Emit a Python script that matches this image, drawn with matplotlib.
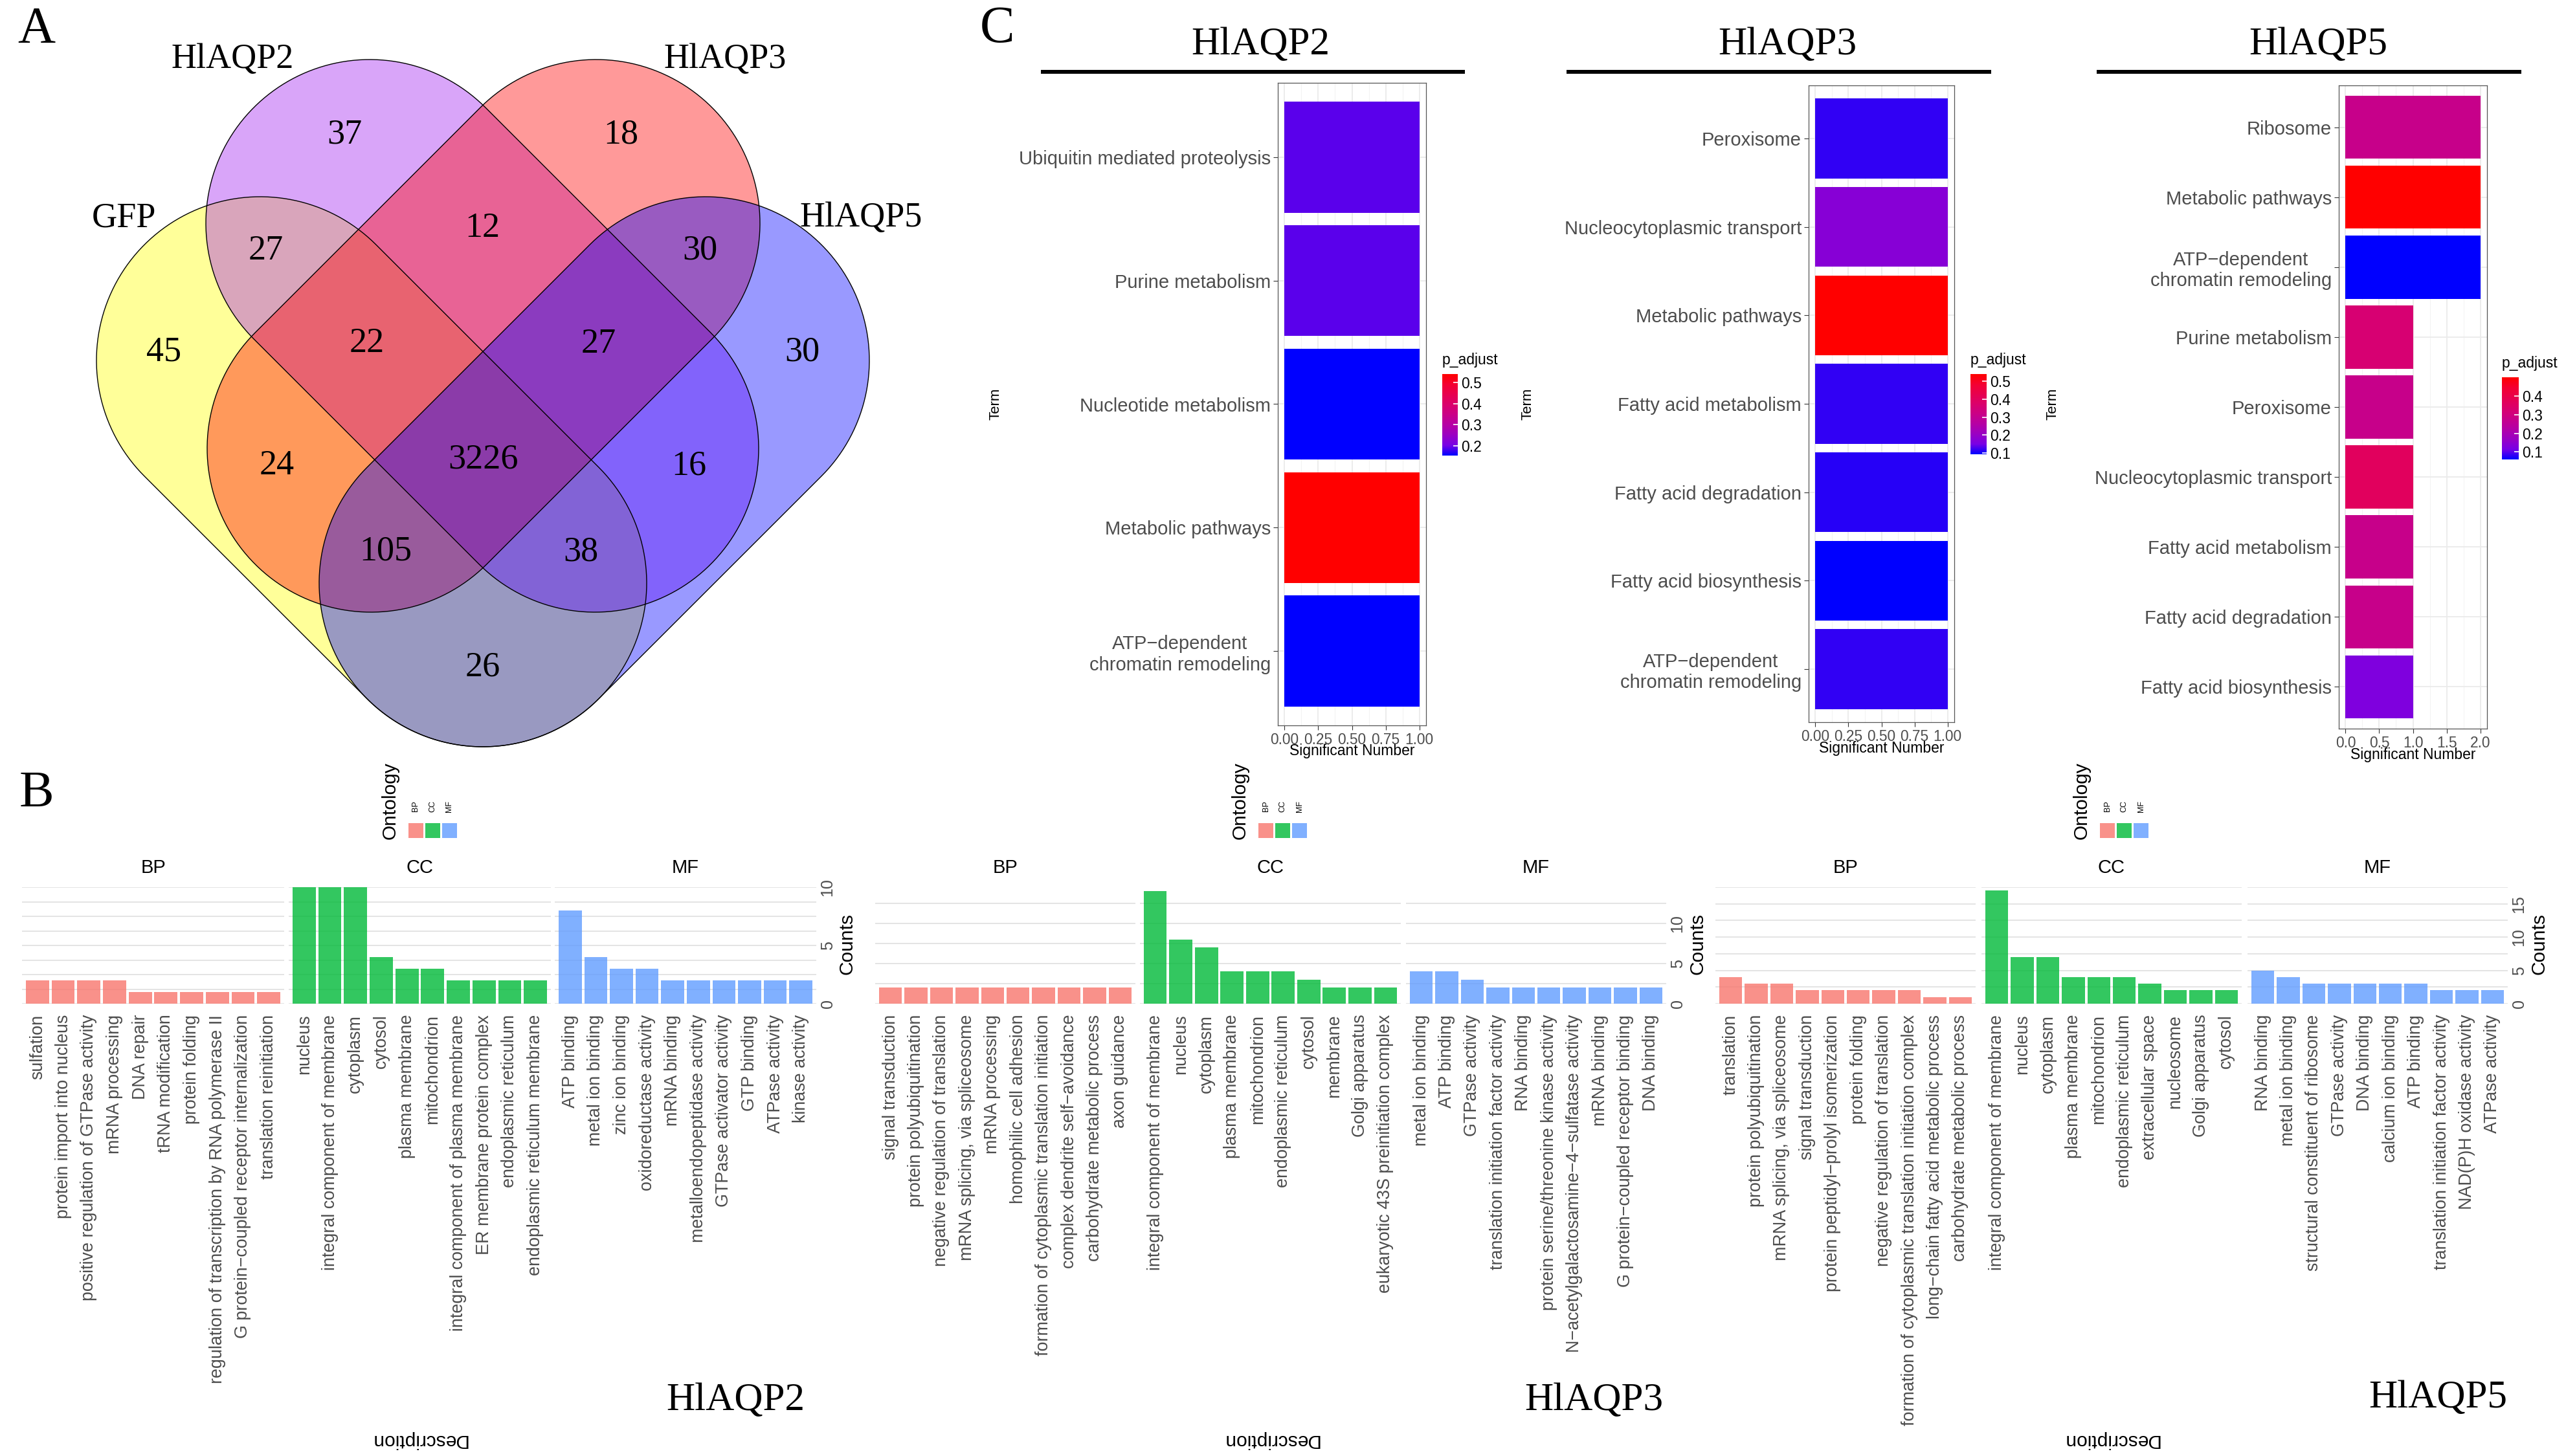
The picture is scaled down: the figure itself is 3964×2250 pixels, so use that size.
import numpy as np
import matplotlib
matplotlib.use("Agg")
import matplotlib.pyplot as plt
import matplotlib.cm as cm
from matplotlib.colors import LinearSegmentedColormap, Normalize
from matplotlib.patches import Polygon, Rectangle
from matplotlib.ticker import FormatStrFormatter

plt.rcParams['font.family'] = ['Liberation Sans', 'DejaVu Sans']
SERIF = ['Liberation Serif', 'DejaVu Serif']
GREY = '#4D4D4D'

# ---------------- data ----------------
# A: venn, membership order (GFP, HlAQP2, HlAQP3, HlAQP5)
venn_sets = ["GFP", "HlAQP2", "HlAQP3", "HlAQP5"]
venn_fill = ["#FFFF00", "#A020F0", "#FF0000", "#0000FF"]
venn_regions = [(1, 0, 0, 0), (0, 1, 0, 0), (0, 0, 1, 0), (0, 0, 0, 1),
                (1, 1, 0, 0), (0, 1, 1, 0), (0, 0, 1, 1), (1, 0, 0, 1),
                (1, 0, 1, 0), (0, 1, 0, 1), (1, 1, 1, 0), (0, 1, 1, 1),
                (1, 0, 1, 1), (1, 1, 0, 1), (1, 1, 1, 1)]
venn_counts = [45, 37, 18, 30, 27, 12, 30, 26, 24, 16, 22, 27, 105, 38, 3226]

# C: KEGG terms
kegg2_terms = ["Ubiquitin mediated proteolysis", "Purine metabolism", "Nucleotide metabolism",
               "Metabolic pathways", "ATP\u2212dependent\nchromatin remodeling"]
kegg2_counts = [1, 1, 1, 1, 1]
kegg2_padj = [0.19, 0.19, 0.153, 0.54, 0.153]

kegg3_terms = ["Peroxisome", "Nucleocytoplasmic transport", "Metabolic pathways",
               "Fatty acid metabolism", "Fatty acid degradation", "Fatty acid biosynthesis",
               "ATP\u2212dependent\nchromatin remodeling"]
kegg3_counts = [1, 1, 1, 1, 1, 1, 1]
kegg3_padj = [0.115, 0.173, 0.541, 0.115, 0.11, 0.092, 0.115]

kegg5_terms = ["Ribosome", "Metabolic pathways", "ATP\u2212dependent\nchromatin remodeling",
               "Purine metabolism", "Peroxisome", "Nucleocytoplasmic transport",
               "Fatty acid metabolism", "Fatty acid degradation", "Fatty acid biosynthesis"]
kegg5_counts = [2, 2, 2, 1, 1, 1, 1, 1, 1]
kegg5_padj = [0.276, 0.50, 0.06, 0.324, 0.276, 0.364, 0.276, 0.276, 0.126]

# B: GO terms
go2_bp = ["sulfation", "protein import into nucleus", "positive regulation of GTPase activity",
          "mRNA processing", "DNA repair", "tRNA modification", "protein folding",
          "regulation of transcription by RNA polymerase II",
          "G protein\u2212coupled receptor internalization", "translation reinitiation"]
go2_bp_n = [2, 2, 2, 2, 1, 1, 1, 1, 1, 1]
go2_cc = ["nucleus", "integral component of membrane", "cytoplasm", "cytosol", "plasma membrane",
          "mitochondrion", "integral component of plasma membrane", "ER membrane protein complex",
          "endoplasmic reticulum", "endoplasmic reticulum membrane"]
go2_cc_n = [10, 10, 10, 4, 3, 3, 2, 2, 2, 2]
go2_mf = ["ATP binding", "metal ion binding", "zinc ion binding", "oxidoreductase activity",
          "mRNA binding", "metalloendopeptidase activity", "GTPase activator activity",
          "GTP binding", "ATPase activity", "kinase activity"]
go2_mf_n = [8, 4, 3, 3, 2, 2, 2, 2, 2, 2]

go3_bp = ["signal transduction", "protein polyubiquitination", "negative regulation of translation",
          "mRNA splicing, via spliceosome", "mRNA processing", "homophilic cell adhesion",
          "formation of cytoplasmic translation initiation", "complex dendrite self\u2212avoidance",
          "carbohydrate metabolic process", "axon guidance"]
go3_bp_n = [2, 2, 2, 2, 2, 2, 2, 2, 2, 2]
go3_cc = ["integral component of membrane", "nucleus", "cytoplasm", "plasma membrane",
          "mitochondrion", "endoplasmic reticulum", "cytosol", "membrane", "Golgi apparatus",
          "eukaryotic 43S preinitiation complex"]
go3_cc_n = [14, 8, 7, 4, 4, 4, 3, 2, 2, 2]
go3_mf = ["metal ion binding", "ATP binding", "GTPase activity", "translation initiation factor activity",
          "RNA binding", "protein serine/threonine kinase activity",
          "N\u2212acetylgalactosamine\u22124\u2212sulfatase activity", "mRNA binding",
          "G protein\u2212coupled receptor binding", "DNA binding"]
go3_mf_n = [4, 4, 3, 2, 2, 2, 2, 2, 2, 2]

go5_bp = ["translation", "protein polyubiquitination", "mRNA splicing, via spliceosome",
          "signal transduction", "protein peptidyl\u2212prolyl isomerization", "protein folding",
          "negative regulation of translation", "formation of cytoplasmic translation initiation complex",
          "long\u2212chain fatty acid metabolic process", "carbohydrate metabolic process"]
go5_bp_n = [4, 3, 3, 2, 2, 2, 2, 2, 1, 1]
go5_cc = ["integral component of membrane", "nucleus", "cytoplasm", "plasma membrane",
          "mitochondrion", "endoplasmic reticulum", "extracellular space", "nucleosome",
          "Golgi apparatus", "cytosol"]
go5_cc_n = [17, 7, 7, 4, 4, 4, 3, 2, 2, 2]
go5_mf = ["RNA binding", "metal ion binding", "structural constituent of ribosome", "GTPase activity",
          "DNA binding", "calcium ion binding", "ATP binding", "translation initiation factor activity",
          "NAD(P)H oxidase activity", "ATPase activity"]
go5_mf_n = [5, 4, 3, 3, 3, 3, 3, 2, 2, 2]

ont_names = ["BP", "CC", "MF"]
ont_colors = ["#F8766D", "#00BA38", "#619CFF"]

# blue -> red gradient (Lab-like interpolation, as ggplot)
padj_cmap = LinearSegmentedColormap.from_list(
    "padj", [(0, "#0000FF"), (0.125, "#7800E5"), (0.25, "#9A00C3"), (0.375, "#B500A5"),
             (0.5, "#C90088"), (0.625, "#DA006C"), (0.75, "#E7004F"), (0.875, "#F40031"),
             (1, "#FF0000")])

# ---------------- figure ----------------
W, H = 3964, 2250
fig = plt.figure(figsize=(W / 100, H / 100), dpi=100)


def box(x0, y0, x1, y1):
    return [x0 / W, 1 - y1 / H, (x1 - x0) / W, (y1 - y0) / H]


ax0 = fig.add_axes([0, 0, 1, 1])
ax0.set_xlim(0, W)
ax0.set_ylim(H, 0)
ax0.axis('off')

# panel letters
for letter, (x, y) in zip("ABC", [(56, 46), (56, 1227), (1541, 46)]):
    ax0.text(x, y, letter, fontsize=58, family=SERIF, ha='center', va='center')

# ---------------- A: venn ----------------
venn_r = 253
venn_axes = [((402, 557), (746, 901)), ((571, 345), (919, 693)),
             ((921, 345), (573, 693)), ((1090, 557), (746, 901))]


def capsule(c1, c2, r, n=90):
    c1 = np.array(c1, float)
    c2 = np.array(c2, float)
    d = c2 - c1
    ang = np.arctan2(d[1], d[0])
    a1 = np.linspace(ang + np.pi / 2, ang + 3 * np.pi / 2, n)
    a2 = np.linspace(ang - np.pi / 2, ang + np.pi / 2, n)
    p1 = c1 + r * np.column_stack([np.cos(a1), np.sin(a1)])
    p2 = c2 + r * np.column_stack([np.cos(a2), np.sin(a2)])
    return np.vstack([p1, p2])


def seg_dist(px, py, c1, c2):
    dx, dy = c2[0] - c1[0], c2[1] - c1[1]
    t = np.clip(((px - c1[0]) * dx + (py - c1[1]) * dy) / (dx * dx + dy * dy), 0, 1)
    return np.hypot(px - (c1[0] + t * dx), py - (c1[1] + t * dy))


for (c1, c2), col in zip(venn_axes, venn_fill):
    ax0.add_patch(Polygon(capsule(c1, c2, venn_r), closed=True, facecolor=col, alpha=0.4,
                          edgecolor='none', zorder=1))
for c1, c2 in venn_axes:
    ax0.add_patch(Polygon(capsule(c1, c2, venn_r), closed=True, facecolor='none',
                          edgecolor='black', lw=1.0, zorder=2))

# place each count at the centre of the thick part of its region
gx, gy = np.meshgrid(np.arange(100, 1400, 3), np.arange(40, 1250, 3))
dists = [seg_dist(gx, gy, c1, c2) for c1, c2 in venn_axes]
inside = [d <= venn_r for d in dists]
clear = np.min([np.abs(d - venn_r) for d in dists], axis=0)
for memb, n in zip(venn_regions, venn_counts):
    mask = np.all([inside[i] == bool(memb[i]) for i in range(4)], axis=0)
    cmax = clear[mask].max()
    sel = mask & (clear >= 0.6 * cmax)
    ax0.text(gx[sel].mean(), gy[sel].mean(), str(n), fontsize=39, family=SERIF,
             ha='center', va='center', zorder=3)

for name, (x, y) in zip(venn_sets, [(191, 337), (359, 92), (1120, 92), (1330, 337)]):
    ax0.text(x, y, name, fontsize=39, family=SERIF, ha='center', va='center')


# ---------------- C: KEGG bars ----------------
def kegg_plot(px, terms, counts, padj, xlim, xticks, xfmt, cbar_px, cticks,
              title, title_x, line_x, term_x):
    ax = fig.add_axes(box(*px))
    n = len(terms)
    ypos = np.arange(n)[::-1]
    norm = Normalize(min(padj), max(padj))
    ax.barh(ypos, counts, height=0.9, color=padj_cmap(norm(np.array(padj))), zorder=2)
    ax.set_ylim(-0.6, n - 0.4)
    ax.set_xlim(*xlim)
    ax.set_yticks(ypos)
    ax.set_yticklabels(terms, fontsize=21, color=GREY)
    for lbl in ax.get_yticklabels():
        lbl.set_multialignment('center')
    ax.set_xticks(xticks)
    ax.set_xticklabels([xfmt % v for v in xticks], fontsize=16.4, color=GREY)
    ax.set_xticks(np.array(xticks[:-1]) + (xticks[1] - xticks[0]) / 2, minor=True)
    ax.grid(which='major', color='#EBEBEB', lw=1.3, zorder=0)
    ax.grid(which='minor', axis='x', color='#F3F3F3', lw=0.8, zorder=0)
    ax.set_axisbelow(True)
    ax.tick_params(which='major', length=5, color='#333333', pad=3)
    ax.tick_params(which='minor', length=0)
    for s in ax.spines.values():
        s.set_color('#555555')
        s.set_linewidth(0.9)
    cx = (px[0] + px[2]) / 2
    ax0.text(cx, px[3] + 40, "Significant Number", fontsize=16.5, ha='center', va='center')
    ax0.text(term_x, 624, "Term", fontsize=16, rotation=90, ha='center', va='center')
    ax0.text(title_x, 69, title, fontsize=44, family=SERIF, ha='center', va='center')
    ax0.plot(line_x, [111, 111], color='black', lw=4.3, solid_capstyle='butt')
    cax = fig.add_axes(box(*cbar_px))
    cb = fig.colorbar(cm.ScalarMappable(norm=norm, cmap=padj_cmap), cax=cax, ticks=cticks)
    cb.outline.set_visible(False)
    cax.yaxis.set_major_formatter(FormatStrFormatter('%.1f'))
    cax.tick_params(labelsize=16.5, color='white', length=5, width=1.2, direction='in', pad=4)
    ax0.text(cbar_px[0], cbar_px[1] - 10, "p_adjust", fontsize=16.5, ha='left', va='bottom')


kegg_plot((1974, 128, 2203, 1121), kegg2_terms, kegg2_counts, kegg2_padj, (-0.05, 1.05),
          [0, 0.25, 0.5, 0.75, 1.0], '%.2f', (2228, 578, 2252, 704), [0.2, 0.3, 0.4, 0.5],
          "HlAQP2", 1947, [1608, 2263], 1538)
kegg_plot((2794, 132, 3019, 1116), kegg3_terms, kegg3_counts, kegg3_padj, (-0.05, 1.05),
          [0, 0.25, 0.5, 0.75, 1.0], '%.2f', (3044, 578, 3069, 702), [0.1, 0.2, 0.3, 0.4, 0.5],
          "HlAQP3", 2761, [2420, 3076], 2360)
kegg_plot((3613, 132, 3842, 1126), kegg5_terms, kegg5_counts, kegg5_padj, (-0.1, 2.1),
          [0, 0.5, 1.0, 1.5, 2.0], '%.1f', (3865, 583, 3891, 710), [0.1, 0.2, 0.3, 0.4],
          "HlAQP5", 3581, [3239, 3895], 3171)


# ---------------- B: GO bars ----------------
def go_plot(xs, terms_list, counts_list, ymax, grid_step, yticks, counts_x, legend_x, name, name_xy,
            desc_x):
    y0, y1 = 1371, 1551
    for (xa, xb), terms, counts, oname, col in zip(xs, terms_list, counts_list, ont_names, ont_colors):
        ax = fig.add_axes(box(xa, y0, xb, y1))
        ax.set_facecolor('none')
        n = len(terms)
        ax.bar(np.arange(n), counts, width=0.9, color=col, alpha=0.8, zorder=2)
        ax.set_xlim(-0.6, n - 0.4)
        ax.set_ylim(0, ymax)
        ax.set_xticks(np.arange(n))
        ax.set_xticklabels(terms, rotation=90, fontsize=19.4, color=GREY)
        ax.set_yticks(np.arange(0, ymax + 1e-6, grid_step), minor=True)
        ax.set_yticks(yticks)
        ax.grid(axis='y', which='both', color='#E4E4E4', lw=1.4, zorder=0)
        ax.tick_params(axis='both', which='both', length=0)
        ax.tick_params(axis='x', pad=12)
        for s in ax.spines.values():
            s.set_visible(False)
        if oname == "MF":
            ax.yaxis.tick_right()
            ax.set_yticklabels([str(v) for v in yticks], rotation=90, va='center',
                               fontsize=18, color=GREY)
            ax.tick_params(axis='y', pad=4)
        else:
            ax.tick_params(axis='y', labelleft=False)
        ax0.text((xa + xb) / 2, 1341, oname, fontsize=21, ha='center', va='center')
    ax0.text(counts_x, 1459, "Counts", fontsize=21.5, rotation=90, ha='center', va='center')
    ax0.text(name_xy[0], name_xy[1], name, fontsize=44, family=SERIF, ha='center', va='center')
    ax0.text(desc_x, 2225, "Description", fontsize=21.5, rotation=180, ha='center', va='center')
    # legend
    ax0.text(legend_x, 1237, "Ontology", fontsize=21.5, rotation=90, ha='center', va='center')
    for i, (oname, col) in enumerate(zip(ont_names, ont_colors)):
        kx = legend_x + 28 + i * 26
        ax0.add_patch(Rectangle((kx, 1272), 23, 23, facecolor=col, alpha=0.8, edgecolor='none'))
        ax0.text(kx + 11.5, 1246, oname, fontsize=9, rotation=90, ha='center', va='center')


go_plot([(34, 439), (446, 851), (857, 1261)], [go2_bp, go2_cc, go2_mf],
        [go2_bp_n, go2_cc_n, go2_mf_n], 10, 1.25, [0, 5, 10], 1309, 603,
        "HlAQP2", (1136, 2164), 647)
go_plot([(1352, 1754), (1761, 2164), (2172, 2574)], [go3_bp, go3_cc, go3_mf],
        [go3_bp_n, go3_cc_n, go3_mf_n], 14.5, 2.5, [0, 5, 10], 2622, 1916,
        "HlAQP3", (2462, 2164), 1963)
go_plot([(2650, 3052), (3061, 3463), (3472, 3874)], [go5_bp, go5_cc, go5_mf],
        [go5_bp_n, go5_cc_n, go5_mf_n], 17.5, 2.5, [0, 5, 10, 15], 3922, 3216,
        "HlAQP5", (3766, 2160), 3261)

fig.savefig("out.png", dpi=100, facecolor='white')
